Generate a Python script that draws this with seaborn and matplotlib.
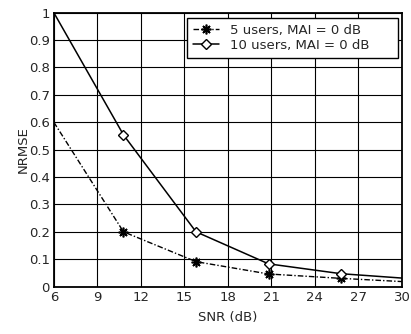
import matplotlib
matplotlib.use('Agg')
import matplotlib.pyplot as plt
import seaborn as sns
import pandas as pd

# data
snr = [6, 10.8, 15.8, 20.8, 25.8, 30.8]
nrmse_5 = [0.60, 0.20, 0.091, 0.046, 0.030, 0.016]
nrmse_10 = [1.00, 0.554, 0.200, 0.083, 0.047, 0.028]
labels = ['5 users, MAI = 0 dB', '10 users, MAI = 0 dB']
xticks = [6, 9, 12, 15, 18, 21, 24, 27, 30]
yticks = [0, 0.1, 0.2, 0.3, 0.4, 0.5, 0.6, 0.7, 0.8, 0.9, 1]

df = pd.DataFrame({'snr': snr, 'n5': nrmse_5, 'n10': nrmse_10})

sns.set_style('white')
plt.rcParams['font.family'] = ['DejaVu Sans']
fs = 9.5

fig = plt.figure(figsize=(4.11, 3.34), dpi=100)
ax = fig.add_axes([0.131, 0.142, 0.847, 0.820])

sns.lineplot(data=df, x='snr', y='n5', ax=ax, color='black',
             linewidth=1.0, marker=(8, 2, 0), markersize=7, markevery=[1, 2, 3, 4],
             markeredgecolor='black', markeredgewidth=1.2, label=labels[0])
ax.lines[-1].set_dashes([4, 1.5, 1, 1.5])
sns.lineplot(data=df, x='snr', y='n10', ax=ax, color='black', linestyle='-',
             linewidth=1.1, marker='D', markersize=5.5, markevery=[1, 2, 3, 4],
             markerfacecolor='white', markeredgecolor='black', markeredgewidth=1.0,
             label=labels[1])

ax.set_xlim(6, 30)
ax.set_ylim(0, 1)
ax.set_xticks(xticks)
ax.set_xticklabels([str(t) for t in xticks])
ax.set_yticks(yticks)
ax.set_yticklabels(['0'] + ['%.1f' % t for t in yticks[1:-1]] + ['1'])
ax.grid(True, color='black', linewidth=0.8, linestyle='-')
ax.tick_params(direction='in', length=3, color='black', labelsize=fs, pad=3)
for s in ax.spines.values():
    s.set_color('black')
    s.set_linewidth(1.3)
ax.set_xlabel('SNR (dB)', fontsize=fs, labelpad=5)
ax.set_ylabel('NRMSE', fontsize=fs, labelpad=-1)

leg = ax.legend(loc='upper left', bbox_to_anchor=(0.382, 0.98, 0.607, 0),
                mode='expand', frameon=True, fancybox=False, fontsize=fs,
                handlelength=2.0, borderaxespad=0, labelspacing=0.15,
                borderpad=0.45, handletextpad=0.8)
leg.get_frame().set_edgecolor('black')
leg.get_frame().set_linewidth(1.0)
leg.get_frame().set_alpha(1)

fig.savefig('out.png', dpi=100)
